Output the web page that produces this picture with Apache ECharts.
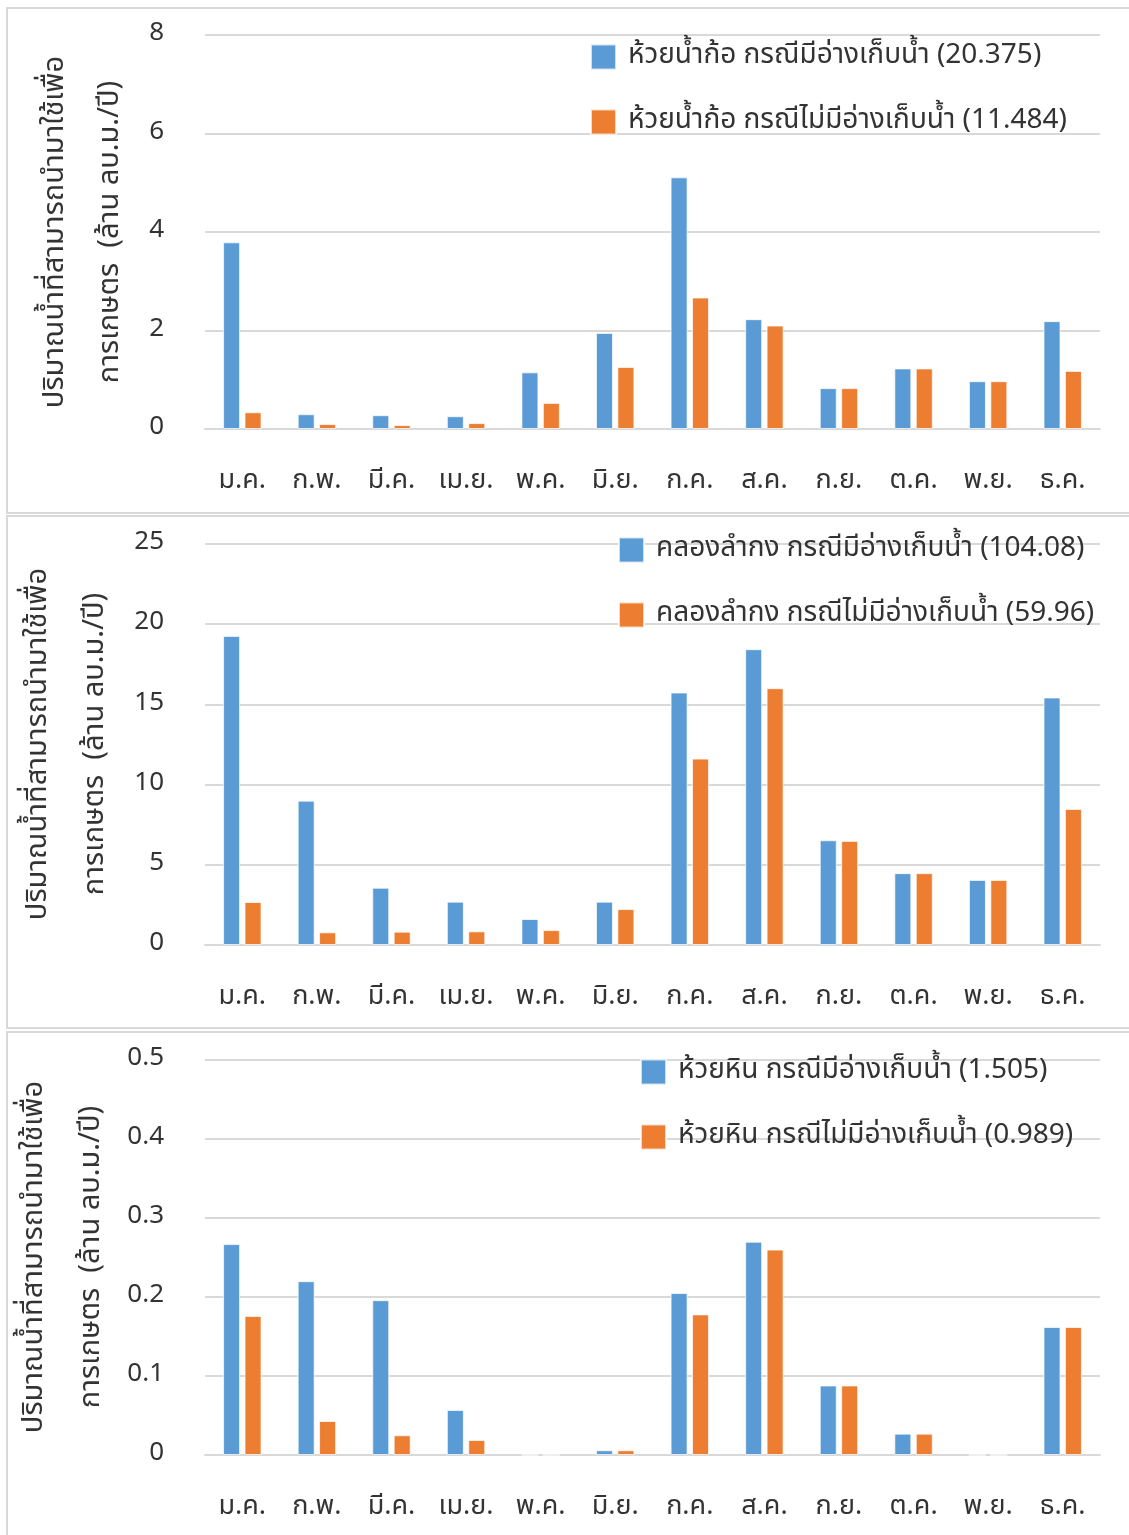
<!DOCTYPE html>
<html>
<head>
<meta charset="utf-8">
<script src="https://cdn.jsdelivr.net/npm/echarts@6/dist/echarts.min.js"></script>
<style>
  html, body { margin: 0; padding: 0; background: #fff; }
  #chart { width: 1129px; height: 1535px; }
</style>
</head>
<body>
<div id="chart"></div>
<script>
// Months (Thai abbreviations)
const months = ['ม.ค.', 'ก.พ.', 'มี.ค.', 'เม.ย.', 'พ.ค.', 'มิ.ย.', 'ก.ค.', 'ส.ค.', 'ก.ย.', 'ต.ค.', 'พ.ย.', 'ธ.ค.'];

// ห้วยน้ำก้อ (ล้าน ลบ.ม./ปี)
const namKorWithRes = [3.79, 0.30, 0.28, 0.26, 1.15, 1.95, 5.11, 2.23, 0.83, 1.23, 0.97, 2.19];
const namKorNoRes   = [0.34, 0.10, 0.08, 0.12, 0.53, 1.26, 2.67, 2.10, 0.83, 1.23, 0.97, 1.18];

// คลองลำกง
const lamKongWithRes = [19.27, 9.00, 3.57, 2.70, 1.62, 2.70, 15.74, 18.44, 6.53, 4.48, 4.06, 15.43];
const lamKongNoRes   = [2.68, 0.79, 0.83, 0.85, 0.93, 2.24, 11.62, 16.01, 6.49, 4.48, 4.06, 8.48];

// ห้วยหิน
const huaiHinWithRes = [0.267, 0.220, 0.196, 0.057, 0, 0.006, 0.205, 0.270, 0.088, 0.027, 0, 0.162];
const huaiHinNoRes   = [0.176, 0.043, 0.025, 0.019, 0, 0.006, 0.178, 0.260, 0.088, 0.027, 0, 0.162];

// Legend names
const namesNamKor  = ['ห้วยน้ำก้อ กรณีมีอ่างเก็บน้ำ (20.375)', 'ห้วยน้ำก้อ กรณีไม่มีอ่างเก็บน้ำ (11.484)'];
const namesLamKong = ['คลองลำกง กรณีมีอ่างเก็บน้ำ (104.08)', 'คลองลำกง กรณีไม่มีอ่างเก็บน้ำ (59.96)'];
const namesHuaiHin = ['ห้วยหิน กรณีมีอ่างเก็บน้ำ (1.505)', 'ห้วยหิน กรณีไม่มีอ่างเก็บน้ำ (0.989)'];

// Y axis ranges
const yMax = [8, 25, 0.5];
const yStep = [2, 5, 0.1];

const yTitleLine1 = 'ปริมาณน้ำที่สามารถนำมาใช้เพื่อ';
const yTitleLine2 = 'การเกษตร  (ล้าน ลบ.ม./ปี)';

const FONT = "'Noto Sans Thai', 'Leelawadee UI', Tahoma, 'DejaVu Sans', 'Noto Sans', sans-serif";
const TEXT = '#333333';
const GRID = '#d9d9d9';
const BLUE = '#5b9bd5';
const ORANGE = '#ed7d31';

const grids = [
  { left: 205, right: 29, top: 35, height: 394 },
  { left: 205, right: 29, top: 544, height: 401 },
  { left: 205, right: 29, top: 1060, height: 395 }
];

const xAxes = grids.map((g, i) => ({
  type: 'category',
  gridIndex: i,
  data: months,
  axisTick: { show: false },
  axisLine: { lineStyle: { color: GRID, width: 2 } },
  axisLabel: { color: TEXT, fontSize: 27, fontFamily: FONT, margin: 40 }
}));

const yAxes = grids.map((g, i) => ({
  type: 'value',
  gridIndex: i,
  min: 0,
  max: yMax[i],
  interval: yStep[i],
  axisLine: { show: false },
  axisTick: { show: false },
  splitLine: { lineStyle: { color: GRID, width: 2 } },
  axisLabel: { color: TEXT, fontSize: 26, fontFamily: FONT, margin: 41 }
}));

function bar(name, data, color, idx) {
  return {
    type: 'bar',
    name: name,
    data: data,
    xAxisIndex: idx,
    yAxisIndex: idx,
    barWidth: 17,
    barGap: '26%',
    itemStyle: { color: color, borderColor: 'rgba(255,255,255,0.7)', borderWidth: 1 }
  };
}

const series = [
  bar(namesNamKor[0], namKorWithRes, BLUE, 0),
  bar(namesNamKor[1], namKorNoRes, ORANGE, 0),
  bar(namesLamKong[0], lamKongWithRes, BLUE, 1),
  bar(namesLamKong[1], lamKongNoRes, ORANGE, 1),
  bar(namesHuaiHin[0], huaiHinWithRes, BLUE, 2),
  bar(namesHuaiHin[1], huaiHinNoRes, ORANGE, 2)
];

function legend(names, left, top) {
  return {
    data: names,
    orient: 'vertical',
    left: left,
    top: top,
    padding: 0,
    icon: 'rect',
    itemWidth: 25,
    itemHeight: 25,
    itemGap: 37,
    selectedMode: false,
    textStyle: { color: TEXT, fontSize: 28, fontFamily: FONT, lineHeight: 25, padding: [0, 0, 0, 7] }
  };
}

const legends = [
  legend(namesNamKor, 590, 43),
  legend(namesLamKong, 618, 536),
  legend(namesHuaiHin, 640, 1058)
];

// Panel frames and rotated two-line axis titles
const frames = [
  { y: 8, h: 505, t1: 57, t2: 112, cy: 232 },
  { y: 516, h: 512, t1: 40, t2: 97, cy: 744 },
  { y: 1032, h: 510, t1: 36, t2: 93, cy: 1257 }
];

const graphic = [];
frames.forEach(f => {
  graphic.push({
    type: 'rect', z: -1, silent: true,
    shape: { x: 7, y: f.y, width: 1125, height: f.h },
    style: { fill: 'none', stroke: GRID, lineWidth: 2 }
  });
  graphic.push({
    type: 'text', x: f.t1, y: f.cy, rotation: Math.PI / 2,
    style: { text: yTitleLine1, fill: TEXT, font: '29px ' + FONT, textAlign: 'center', textVerticalAlign: 'middle' }
  });
  graphic.push({
    type: 'text', x: f.t2, y: f.cy, rotation: Math.PI / 2,
    style: { text: yTitleLine2, fill: TEXT, font: '29px ' + FONT, textAlign: 'center', textVerticalAlign: 'middle' }
  });
});

const chart = echarts.init(document.getElementById('chart'), null, { renderer: 'canvas' });
chart.setOption({
  animation: false,
  backgroundColor: '#fff',
  grid: grids,
  xAxis: xAxes,
  yAxis: yAxes,
  legend: legends,
  series: series,
  graphic: graphic
});
</script>
</body>
</html>
